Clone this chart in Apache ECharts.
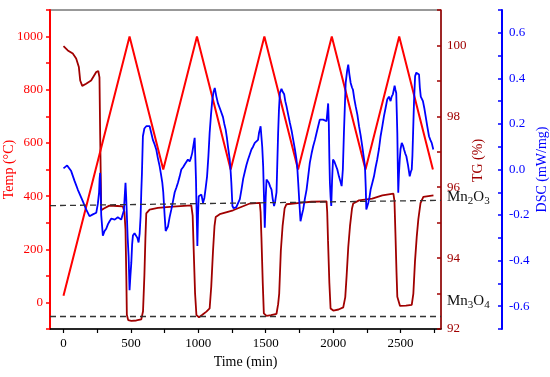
<!DOCTYPE html>
<html><head><meta charset="utf-8">
<script src="https://cdn.jsdelivr.net/npm/echarts@6/dist/echarts.min.js"></script>
<style>html,body{margin:0;padding:0;background:#fff}#c{width:550px;height:377px}</style>
</head><body><div id="c"></div><script>
// ---- data ----
const tempTime = [0, 490, 740, 990, 1240, 1490, 1740, 1990, 2240, 2490, 2740];
const tempValues = [25, 1000, 500, 1000, 500, 1000, 500, 1000, 500, 1000, 500];

const tgTime = [0,32,69,94,114,124,139,168,205,243,258,267,272,280,300,340,400,440,452,460,466,470,480,503,540,577,590,600,608,614,639,700,812,948,958,966,976,986,1005,1030,1060,1084,1096,1109,1120,1129,1159,1258,1382,1456,1462,1468,1478,1486,1506,1540,1580,1592,1600,1612,1625,1640,1654,1753,1838,1951,1956,1962,1972,1981,2001,2040,2075,2090,2100,2112,2125,2140,2149,2192,2290,2365,2447,2455,2462,2470,2476,2496,2540,2583,2595,2607,2620,2632,2648,2669,2744];
const tgValues = [99.98,99.86,99.77,99.63,99.39,99.01,98.86,98.92,99.01,99.25,99.28,99.1,97.5,95.35,95.4,95.48,95.47,95.46,95.3,94.8,93.5,92.4,92.25,92.23,92.24,92.27,92.5,93.5,94.6,95.26,95.37,95.42,95.45,95.49,95.2,94.2,93.0,92.39,92.33,92.4,92.49,92.58,93.2,94.2,94.9,95.16,95.24,95.35,95.54,95.56,95.3,94.6,93.3,92.44,92.37,92.39,92.43,92.7,93.0,94.2,94.9,95.4,95.52,95.56,95.59,95.6,95.3,94.5,93.3,92.58,92.52,92.55,92.61,92.9,93.5,94.3,94.9,95.4,95.54,95.63,95.68,95.77,95.82,95.6,94.7,93.6,92.91,92.65,92.66,92.68,93.0,93.9,94.6,95.1,95.55,95.73,95.77];

const dscTime = [0,27,57,82,106,143,168,193,218,243,255,264,268,272,276,280,292,305,317,330,342,355,367,380,391,403,416,428,441,448,453,460,465,470,476,483,490,496,503,509,515,527,540,548,557,565,572,577,582,589,600,614,627,639,651,663,676,688,700,713,723,733,740,745,750,758,766,775,787,800,812,825,837,849,862,874,887,899,911,923,936,945,955,965,973,978,983,986,990,993,998,1003,1013,1023,1035,1045,1055,1065,1075,1084,1094,1104,1113,1122,1134,1146,1155,1165,1183,1193,1203,1212,1220,1233,1240,1245,1253,1262,1270,1282,1295,1308,1320,1333,1345,1357,1369,1381,1394,1406,1419,1431,1443,1450,1456,1462,1468,1474,1481,1487,1493,1500,1506,1515,1523,1533,1543,1552,1562,1570,1580,1586,1592,1598,1605,1617,1627,1637,1645,1654,1667,1679,1692,1704,1716,1728,1735,1741,1750,1758,1768,1778,1790,1803,1815,1827,1840,1852,1865,1877,1889,1901,1914,1926,1938,1951,1957,1963,1968,1972,1976,1981,1986,1992,1999,2009,2019,2031,2043,2053,2063,2072,2080,2087,2093,2103,2112,2120,2130,2140,2147,2157,2167,2180,2192,2204,2216,2228,2236,2242,2246,2254,2261,2270,2278,2290,2303,2315,2327,2340,2352,2365,2377,2389,2401,2408,2414,2420,2426,2434,2443,2450,2456,2462,2468,2472,2476,2480,2483,2488,2494,2500,2509,2518,2526,2535,2543,2555,2568,2576,2583,2588,2593,2600,2608,2617,2625,2631,2637,2643,2650,2658,2666,2676,2686,2698,2711,2721,2731,2743];
const dscValues = [0.005,0.018,-0.007,-0.05,-0.088,-0.139,-0.175,-0.205,-0.197,-0.19,-0.15,-0.1,-0.04,-0.015,-0.1,-0.2,-0.29,-0.27,-0.26,-0.24,-0.227,-0.215,-0.21,-0.22,-0.225,-0.21,-0.215,-0.22,-0.22,-0.18,-0.13,-0.058,-0.12,-0.2,-0.3,-0.38,-0.53,-0.47,-0.41,-0.33,-0.29,-0.28,-0.285,-0.3,-0.32,-0.28,-0.205,-0.1,-0.015,0.146,0.18,0.19,0.195,0.19,0.16,0.13,0.11,0.088,0.05,0.015,-0.02,-0.058,-0.1,-0.15,-0.2,-0.27,-0.26,-0.25,-0.21,-0.175,-0.14,-0.1,-0.08,-0.058,-0.03,0.0,0.01,0.022,0.03,0.044,0.035,0.05,0.073,0.11,0.139,0.05,-0.05,-0.146,-0.25,-0.336,-0.2,-0.117,-0.11,-0.11,-0.146,-0.125,-0.08,-0.03,0.06,0.16,0.24,0.307,0.34,0.358,0.32,0.29,0.285,0.26,0.23,0.2,0.175,0.14,0.1,0.044,-0.01,-0.058,-0.16,-0.17,-0.175,-0.165,-0.16,-0.13,-0.088,-0.04,-0.01,0.02,0.044,0.065,0.088,0.1,0.117,0.12,0.13,0.16,0.175,0.19,0.197,0.1,0.015,-0.12,-0.256,-0.12,-0.044,-0.05,-0.058,-0.075,-0.088,-0.13,-0.16,-0.14,-0.1,0.03,0.16,0.26,0.336,0.354,0.34,0.33,0.3,0.278,0.24,0.205,0.17,0.13,0.09,0.044,0.0,-0.058,-0.15,-0.227,-0.2,-0.175,-0.13,-0.088,-0.03,0.029,0.07,0.102,0.13,0.16,0.19,0.219,0.222,0.219,0.215,0.212,0.25,0.29,0.2,0.05,-0.058,-0.12,-0.16,-0.05,0.044,0.035,0.029,0.0,-0.03,-0.05,-0.073,0.0,0.16,0.28,0.38,0.43,0.46,0.42,0.38,0.36,0.35,0.31,0.278,0.24,0.19,0.15,0.102,0.05,0.015,-0.08,-0.175,-0.16,-0.146,-0.12,-0.088,-0.06,-0.03,0.01,0.044,0.09,0.146,0.19,0.234,0.27,0.307,0.315,0.32,0.31,0.3,0.32,0.33,0.35,0.368,0.35,0.336,0.25,0.16,0.0,-0.102,-0.02,0.044,0.09,0.117,0.105,0.088,0.07,0.058,0.02,-0.03,-0.01,0.0,0.06,0.16,0.3,0.41,0.425,0.43,0.425,0.417,0.36,0.32,0.31,0.3,0.27,0.234,0.19,0.146,0.13,0.117,0.088];

// reference (dashed) lines, in TG units: [time, TG] pairs
const mn2o3Line = [[-100, 95.48], [2800, 95.63]];
const mn3o4Line = [[-100, 92.35], [2800, 92.35]];
const refLabels = ['Mn2O3', 'Mn3O4'];
const refLabelTG = [95.66, 92.72];

const xTickValues = [0,250,500,750,1000,1250,1500,1750,2000,2250,2500,2750];
const xLabelValues = [0,500,1000,1500,2000,2500];

// ---- build ----
const zip = (a, b) => a.map((v, i) => [v, b[i]]);
const FONT = 'Liberation Serif';
const RED = '#ff0000', DRED = '#a00000', BLUE = '#0000ff';

const chart = echarts.init(document.getElementById('c'), null, {renderer: 'canvas'});
const option = {
  animation: false,
  backgroundColor: '#fff',
  grid: {left: 50, right: 109, top: 10, bottom: 48, show: true, borderColor: '#333', borderWidth: 1,
    containLabel: false, outerBoundsMode: 'none'},
  xAxis: [{
    type: 'value', min: -100, max: 2800, position: 'bottom',
    name: 'Time (min)', nameLocation: 'middle', nameGap: 26, nameMoveOverlap: false,
    nameTextStyle: {fontFamily: FONT, fontSize: 14, color: '#000'},
    axisLine: {onZero: false, lineStyle: {color: '#000', width: 1.5}},
    axisTick: {show: true, customValues: xTickValues, length: 4, lineStyle: {color: '#000', width: 1.2}},
    axisLabel: {customValues: xLabelValues, fontFamily: FONT, fontSize: 13, color: '#000', margin: 8,
      formatter: v => String(Math.round(v))},
    splitLine: {show: false}
  }],
  yAxis: [{
    type: 'value', min: -100, max: 1100, interval: 100, position: 'left',
    name: 'Temp (\u00B0C)', nameLocation: 'middle', nameGap: 34, nameRotate: 90, nameMoveOverlap: false,
    nameTextStyle: {fontFamily: FONT, fontSize: 14, color: RED},
    axisLine: {show: true, onZero: false, lineStyle: {color: RED, width: 2}},
    axisTick: {show: true, length: 4, lineStyle: {color: RED, width: 1.5}},
    axisLabel: {fontFamily: FONT, fontSize: 13, color: RED, margin: 7,
      formatter: v => (Math.round(v) % 200 === 0 ? String(Math.round(v)) : '')},
    splitLine: {show: false}
  }, {
    type: 'value', min: 92, max: 101, interval: 1, position: 'right',
    name: 'TG (%)', nameLocation: 'middle', nameGap: 30, nameRotate: 90, nameMoveOverlap: false,
    nameTextStyle: {fontFamily: FONT, fontSize: 14, color: DRED, padding: [0, 0, 0, 18]},
    axisLine: {show: true, onZero: false, lineStyle: {color: DRED, width: 1.5}},
    axisTick: {show: true, inside: true, length: 4, lineStyle: {color: DRED, width: 1.5}},
    axisLabel: {fontFamily: FONT, fontSize: 13, color: DRED, margin: 6,
      formatter: v => (Math.round(v) % 2 === 0 && Math.round(v) <= 100 ? String(Math.round(v)) : '')},
    splitLine: {show: false}
  }, {
    type: 'value', min: -0.7, max: 0.7, interval: 0.1, position: 'right', offset: 61,
    name: 'DSC (mW/mg)', nameLocation: 'middle', nameGap: 33, nameRotate: 90, nameMoveOverlap: false,
    nameTextStyle: {fontFamily: FONT, fontSize: 14, color: BLUE},
    axisLine: {show: true, onZero: false, lineStyle: {color: BLUE, width: 2}},
    axisTick: {show: true, inside: true, length: 4, lineStyle: {color: BLUE, width: 1.5}},
    axisLabel: {fontFamily: FONT, fontSize: 13, color: BLUE, margin: 7,
      formatter: v => { const k = Math.round(v * 10); return Math.abs(k) % 2 === 1 ? '' : (k / 10).toFixed(1); }},
    splitLine: {show: false}
  }],
  series: [{
    name: 'Temp', type: 'line', xAxisIndex: 0, yAxisIndex: 0, showSymbol: false, symbol: 'none',
    data: zip(tempTime, tempValues), lineStyle: {color: RED, width: 2}, z: 3
  }, {
    name: 'TG', type: 'line', xAxisIndex: 0, yAxisIndex: 1, showSymbol: false, symbol: 'none',
    data: zip(tgTime, tgValues), lineStyle: {color: DRED, width: 1.8}, z: 2,
    markLine: {
      silent: true, symbol: 'none', label: {show: false},
      lineStyle: {color: '#333', type: [6, 4], width: 1.3},
      data: [
        [{coord: mn2o3Line[0]}, {coord: mn2o3Line[1]}],
        [{coord: mn3o4Line[0]}, {coord: mn3o4Line[1]}]
      ]
    }
  }, {
    name: 'DSC', type: 'line', xAxisIndex: 0, yAxisIndex: 2, showSymbol: false, symbol: 'none',
    data: zip(dscTime, dscValues), lineStyle: {color: BLUE, width: 1.8}, z: 4
  }]
};
chart.setOption(option);

// Mn oxide labels placed beside the right TG axis
function richFormula(s) {
  return s.replace(/([A-Za-z]+)(\d)/g, '{a|$1}{s|$2}');
}
const graphics = refLabels.map((t, i) => {
  const p = chart.convertToPixel({xAxisIndex: 0, yAxisIndex: 1}, [2800, refLabelTG[i]]);
  return {
    type: 'text', left: p[0] + 6, top: p[1] - 10, z: 10,
    style: {
      text: richFormula(t),
      rich: {
        a: {fontFamily: FONT, fontSize: 15, fill: '#111', lineHeight: 20},
        s: {fontFamily: FONT, fontSize: 11, fill: '#111', lineHeight: 20, verticalAlign: 'bottom', padding: [6, 0, 0, 0]}
      }
    }
  };
});
chart.setOption({graphic: graphics});
</script></body></html>
